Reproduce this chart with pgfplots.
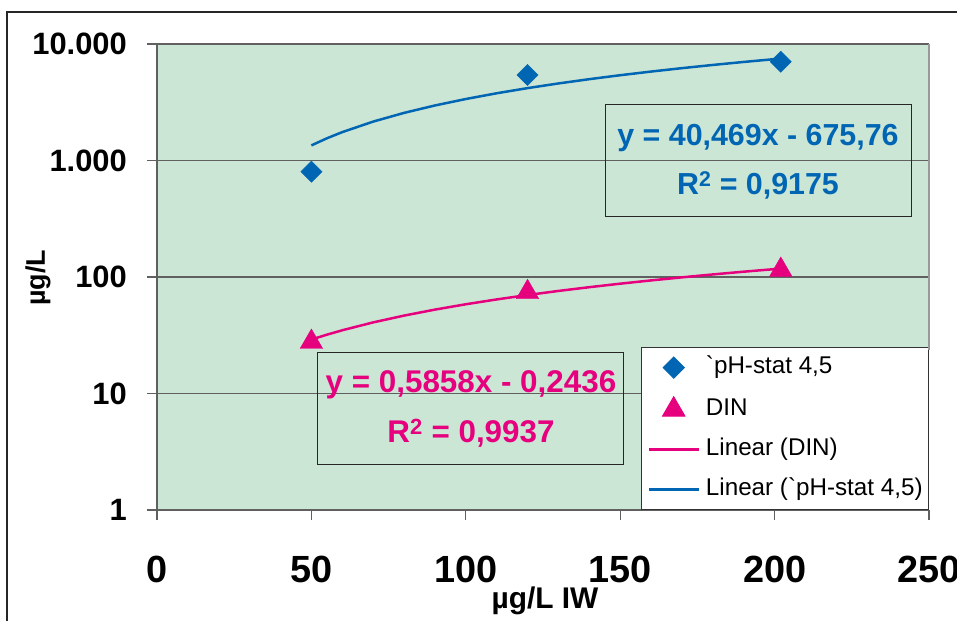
\documentclass[border=0pt]{standalone}
\usepackage{fontspec}
\setmainfont{Liberation Sans}
\usepackage{pgfplots}
\pgfplotsset{compat=1.18}
\definecolor{bgg}{RGB}{204,230,214}
\definecolor{cblue}{RGB}{0,102,179}
\definecolor{cpink}{RGB}{230,0,126}
\definecolor{grd}{RGB}{96,96,96}
\pgfplotsset{
  markleg/.style={legend image code/.code={\draw[##1] plot coordinates {(25bp,0bp)};}},
  lineleg/.style={legend image code/.code={\draw[##1] (0bp,0bp) -- (50bp,0bp);}},
}
\begin{document}
\begin{tikzpicture}
\path[use as bounding box] (-157bp,-111bp) rectangle (800bp,510bp);
\draw[line width=1.3bp, black!85] (-150bp,-200bp) rectangle (900bp,498bp);
\begin{axis}[
  at={(0bp,0bp)}, anchor=south west,
  scale only axis, width=772bp, height=466bp,
  xmin=0, xmax=250, ymin=1, ymax=10000,
  ymode=log, yminorticks=false,
  axis background/.style={fill=bgg},
  axis x line*=bottom, axis y line*=left,
  axis line style={draw=grd, line width=1.2bp, -},
  xtick={0,50,100,150,200,250},
  xticklabels={0,50,100,150,200,250},
  ytick={1,10,100,1000,10000},
  yticklabels={1,10,100,1.000,10.000},
  tick align=outside, major tick length=10bp,
  tick style={draw=grd, line width=1.2bp},
  ymajorgrids, major grid style={draw=grd, line width=1.1bp},
  yticklabel style={font=\fontsize{31}{31}\selectfont\bfseries, inner sep=0pt, anchor=east, xshift=-20bp},
  xticklabel style={font=\fontsize{38}{38}\selectfont\bfseries, inner sep=0pt, anchor=north, yshift=-36bp},
  legend style={at={(1,0)}, anchor=south east, draw=black!80, line width=0.8bp, fill=white,
    font=\fontsize{24.3}{24.3}\selectfont, inner xsep=6bp, inner ysep=9bp, row sep=18bp,
    nodes={text height=17bp, text depth=5bp, inner sep=0pt},
    /tikz/every odd column/.append style={column sep=6bp}},
  legend cell align=left,
  clip=false,
]
\addplot[only marks, mark=square*, mark size=7.5bp, mark options={rotate=45, fill=cblue, draw=cblue}, color=cblue, markleg]
  coordinates {(50,801) (120,5420) (202,7050)};
\addlegendentry{\textasciigrave pH-stat 4,5}
\addplot[only marks, mark=triangle*, mark size=13bp, color=cpink, mark options={fill=cpink, draw=cpink}, markleg]
  coordinates {(50,27.7) (120,74) (202,115)};
\addlegendentry{DIN}
\addplot[no marks, color=cpink, line width=2.5bp, lineleg]
  coordinates {(50,29.05) (55,31.98) (60,34.90) (70,40.76) (80,46.62) (90,52.48) (100,58.34) (110,64.19)
   (120,70.05) (130,75.91) (140,81.77) (150,87.63) (160,93.48) (170,99.34) (180,105.20) (190,111.06) (202,118.09)};
\addlegendentry{Linear (DIN)}
\addplot[no marks, color=cblue, line width=2.5bp, lineleg]
  coordinates {(50,1347.69) (55,1550.04) (60,1752.38) (70,2157.07) (80,2561.76) (90,2966.45) (100,3371.14) (110,3775.83)
   (120,4180.52) (130,4585.21) (140,4989.90) (150,5394.59) (160,5799.28) (170,6203.97) (180,6608.66) (190,7013.35) (202,7498.98)};
\addlegendentry{Linear (\textasciigrave pH-stat 4,5)}
\end{axis}
\draw[black!40, line width=1.3bp] (772bp,160bp) -- (772bp,466bp);
% equation boxes
\draw[black!85, line width=0.9bp] (448bp,294bp) rectangle (754bp,406bp);
\node[anchor=base, inner sep=0pt, text=cblue, font=\fontsize{30.5}{30.5}\selectfont\bfseries] at (601bp,364bp) {y = 40,469x - 675,76};
\node[anchor=base, inner sep=0pt, text=cblue, font=\fontsize{30.5}{30.5}\selectfont\bfseries] at (601bp,315bp) {R\textsuperscript{2} = 0,9175};
\draw[black!85, line width=0.9bp] (160bp,46bp) rectangle (466bp,158bp);
\node[anchor=base, inner sep=0pt, text=cpink, font=\fontsize{31.5}{31.5}\selectfont\bfseries] at (314bp,117bp) {y = 0,5858x - 0,2436};
\node[anchor=base, inner sep=0pt, text=cpink, font=\fontsize{31.5}{31.5}\selectfont\bfseries] at (314bp,67bp) {R\textsuperscript{2} = 0,9937};
% axis labels
\node[anchor=base, inner sep=0pt, font=\fontsize{30}{30}\selectfont\bfseries] at (388bp,-98bp) {µg/L IW};
\node[anchor=base, rotate=90, inner sep=0pt, font=\fontsize{27}{27}\selectfont\bfseries] at (-112bp,232bp) {µg/L};
\end{tikzpicture}
\end{document}
